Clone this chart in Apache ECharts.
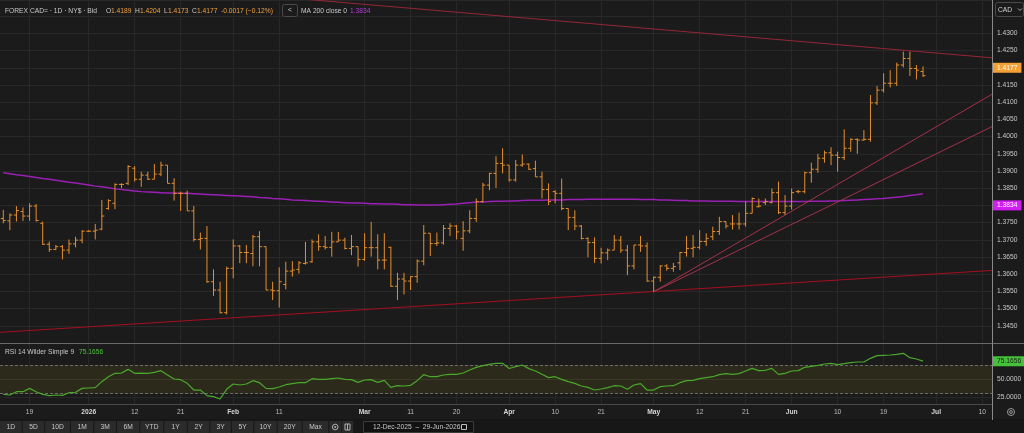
<!DOCTYPE html>
<html lang="en">
<head>
<meta charset="UTF-8">
<title>CAD= 1D</title>
<script src="https://cdn.jsdelivr.net/npm/echarts@6/dist/echarts.min.js"></script>
<style>
    *{ margin:0; padding:0; }
    body{ background:#1b1b1b; }
    #chart{ width:1024px; height:433px; }
</style>
</head>
<body>
<div id="chart"></div>
<script>
// ---- data ----
var firstDay = '2025-12-15';
var lastAxisDay = '2026-07-13';

var tickDates  = ['2025-12-19','2026-01-01','2026-01-12','2026-01-21','2026-02-02','2026-02-11','2026-03-02','2026-03-11','2026-03-20','2026-04-01','2026-04-10','2026-04-21','2026-05-01','2026-05-12','2026-05-21','2026-06-01','2026-06-10','2026-06-19','2026-07-01','2026-07-10'];
var tickLabels = ['19','2026','12','21','Feb','11','Mar','11','20','Apr','10','21','May','12','21','Jun','10','19','Jul','10'];

var opens = [1.3762,1.3755,1.3772,1.3782,1.3769,1.3798,1.3748,1.3687,1.3672,1.3680,
    1.3670,1.3688,1.3699,1.3725,1.3725,1.3731,1.3791,1.3806,1.3861,1.3864,
    1.3908,1.3876,1.3888,1.3876,1.3891,1.3917,1.3864,1.3835,1.3835,1.3784,
    1.3701,1.3704,1.3578,1.3554,1.3488,1.3617,1.3682,1.3663,1.3660,1.3709,
    1.3680,1.3554,1.3552,1.3570,1.3609,1.3614,1.3631,1.3636,1.3694,1.3680,
    1.3678,1.3694,1.3699,1.3675,1.3680,1.3643,1.3677,1.3677,1.3641,1.3678,
    1.3565,1.3586,1.3580,1.3593,1.3638,1.3719,1.3689,1.3691,1.3733,1.3740,
    1.3704,1.3726,1.3762,1.3811,1.3859,1.3893,1.3922,1.3917,1.3874,1.3917,
    1.3920,1.3907,1.3883,1.3846,1.3840,1.3835,1.3791,1.3765,1.3740,1.3704,
    1.3692,1.3646,1.3662,1.3670,1.3699,1.3670,1.3624,1.3685,1.3682,1.3580,
    1.3591,1.3624,1.3617,1.3633,1.3663,1.3675,1.3678,1.3695,1.3709,1.3724,
    1.3753,1.3746,1.3746,1.3746,1.3777,1.3796,1.3808,1.3808,1.3837,1.3779,
    1.3798,1.3840,1.3840,1.3895,1.3905,1.3937,1.3953,1.3946,1.3939,1.3966,
    1.3992,1.3990,1.3992,1.4098,1.4135,1.4155,1.4155,1.4208,1.4227,1.4198,
    1.4189];
var highs = [1.3787,1.3777,1.3798,1.3794,1.3806,1.3804,1.3753,1.3695,1.3685,1.3685,
    1.3701,1.3709,1.3728,1.3728,1.3746,1.3816,1.3818,1.3864,1.3864,1.3917,
    1.3914,1.3898,1.3898,1.3920,1.3927,1.3917,1.3879,1.3840,1.3843,1.3798,
    1.3721,1.3740,1.3614,1.3578,1.3622,1.3701,1.3685,1.3685,1.3714,1.3725,
    1.3680,1.3578,1.3620,1.3636,1.3638,1.3638,1.3694,1.3701,1.3716,1.3711,
    1.3723,1.3723,1.3706,1.3714,1.3680,1.3719,1.3752,1.3716,1.3719,1.3680,
    1.3604,1.3604,1.3594,1.3643,1.3743,1.3719,1.3721,1.3743,1.3748,1.3743,
    1.3754,1.3786,1.3820,1.3866,1.3895,1.3943,1.3966,1.3917,1.3932,1.3948,
    1.3922,1.3930,1.3898,1.3864,1.3844,1.3878,1.3791,1.3786,1.3743,1.3707,
    1.3707,1.3677,1.3675,1.3714,1.3711,1.3685,1.3685,1.3711,1.3692,1.3593,
    1.3626,1.3629,1.3633,1.3665,1.3711,1.3714,1.3728,1.3719,1.3738,1.3767,
    1.3753,1.3772,1.3779,1.3811,1.3823,1.3820,1.3820,1.3849,1.3869,1.3830,
    1.3849,1.3845,1.3898,1.3924,1.3950,1.3959,1.3969,1.3956,1.4021,1.3995,
    1.3995,1.4019,1.4121,1.4147,1.4184,1.4193,1.4215,1.4247,1.4247,1.4208,
    1.4204];
var lows = [1.3748,1.3728,1.3753,1.3755,1.3755,1.3753,1.3685,1.3665,1.3670,1.3643,
    1.3659,1.3678,1.3690,1.3723,1.3701,1.3728,1.3787,1.3789,1.3850,1.3859,
    1.3869,1.3854,1.3874,1.3876,1.3885,1.3864,1.3814,1.3784,1.3784,1.3695,
    1.3672,1.3575,1.3537,1.3486,1.3483,1.3588,1.3632,1.3632,1.3623,1.3623,
    1.3554,1.3525,1.3503,1.3556,1.3593,1.3602,1.3628,1.3633,1.3668,1.3672,
    1.3651,1.3694,1.3672,1.3655,1.3622,1.3639,1.3651,1.3614,1.3614,1.3563,
    1.3525,1.3541,1.3554,1.3575,1.3626,1.3653,1.3682,1.3686,1.3711,1.3701,
    1.3668,1.3719,1.3752,1.3808,1.3844,1.3851,1.3893,1.3869,1.3869,1.3912,
    1.3903,1.3883,1.3820,1.3801,1.3806,1.3786,1.3728,1.3728,1.3701,1.3649,
    1.3633,1.3631,1.3641,1.3670,1.3662,1.3597,1.3614,1.3665,1.3578,1.3549,
    1.3578,1.3610,1.3607,1.3612,1.3651,1.3649,1.3672,1.3682,1.3699,1.3714,
    1.3733,1.3730,1.3730,1.3738,1.3777,1.3794,1.3801,1.3806,1.3775,1.3772,
    1.3788,1.3835,1.3835,1.3866,1.3895,1.3924,1.3917,1.3898,1.3932,1.3956,
    1.3950,1.3988,1.3985,1.4092,1.4128,1.4143,1.4147,1.4201,1.4176,1.4166,
    1.4173];
var closes = [1.3756,1.3772,1.3785,1.3769,1.3798,1.3756,1.3687,1.3672,1.3680,1.3670,
    1.3688,1.3699,1.3725,1.3725,1.3728,1.3769,1.3814,1.3861,1.3861,1.3913,
    1.3876,1.3888,1.3876,1.3891,1.3917,1.3864,1.3835,1.3835,1.3784,1.3701,
    1.3704,1.3578,1.3554,1.3488,1.3617,1.3682,1.3663,1.3663,1.3709,1.3680,
    1.3554,1.3552,1.3578,1.3609,1.3612,1.3633,1.3633,1.3694,1.3680,1.3678,
    1.3694,1.3699,1.3675,1.3680,1.3643,1.3677,1.3677,1.3641,1.3641,1.3565,
    1.3586,1.3580,1.3593,1.3638,1.3719,1.3689,1.3691,1.3733,1.3740,1.3723,
    1.3726,1.3762,1.3811,1.3859,1.3893,1.3922,1.3917,1.3874,1.3917,1.3920,
    1.3905,1.3883,1.3846,1.3811,1.3835,1.3791,1.3765,1.3740,1.3704,1.3692,
    1.3646,1.3662,1.3670,1.3699,1.3670,1.3624,1.3685,1.3682,1.3580,1.3591,
    1.3624,1.3617,1.3622,1.3663,1.3675,1.3678,1.3695,1.3704,1.3724,1.3753,
    1.3740,1.3746,1.3746,1.3777,1.3820,1.3798,1.3811,1.3837,1.3779,1.3798,
    1.3837,1.3840,1.3895,1.3905,1.3937,1.3953,1.3946,1.3939,1.3966,1.3992,
    1.3990,1.3992,1.4098,1.4135,1.4155,1.4155,1.4208,1.4227,1.4198,1.4193,
    1.4177];

var ma200 = [1.3895,1.3892,1.3889,1.3887,1.3884,1.3881,1.3878,1.3876,1.3873,1.3870,
    1.3867,1.3865,1.3862,1.3859,1.3856,1.3854,1.3851,1.3848,1.3846,1.3844,
    1.3842,1.3840,1.3839,1.3838,1.3837,1.3836,1.3836,1.3835,1.3835,1.3834,
    1.3833,1.3832,1.3831,1.3830,1.3829,1.3828,1.3827,1.3826,1.3825,1.3823,
    1.3822,1.3820,1.3819,1.3818,1.3816,1.3815,1.3814,1.3813,1.3812,1.3811,
    1.3810,1.3809,1.3808,1.3807,1.3807,1.3806,1.3805,1.3805,1.3804,1.3804,
    1.3803,1.3802,1.3802,1.3801,1.3801,1.3801,1.3801,1.3802,1.3803,1.3804,
    1.3806,1.3808,1.3810,1.3810,1.3811,1.3812,1.3812,1.3813,1.3813,1.3814,
    1.3815,1.3815,1.3815,1.3816,1.3816,1.3816,1.3817,1.3817,1.3817,1.3818,
    1.3818,1.3818,1.3818,1.3818,1.3818,1.3818,1.3818,1.3817,1.3817,1.3817,
    1.3816,1.3816,1.3815,1.3814,1.3814,1.3813,1.3813,1.3813,1.3812,1.3812,
    1.3812,1.3812,1.3811,1.3811,1.3811,1.3811,1.3811,1.3811,1.3811,1.3811,
    1.3811,1.3811,1.3811,1.3812,1.3812,1.3812,1.3813,1.3813,1.3814,1.3815,
    1.3816,1.3817,1.3818,1.3819,1.3820,1.3822,1.3824,1.3826,1.3829,1.3831,
    1.3834];

var rsi = [29.1,28.2,32.8,32.8,37.4,32.8,29.1,27.3,28.2,27.7,
    31.4,31.9,37.4,37.9,38.4,46.7,53.6,58.3,58.7,63.8,
    58.3,58.7,58.3,59.7,62.0,56.0,50.4,49.5,44.4,35.1,
    35.1,27.3,25.9,22.6,36.1,43.5,42.1,43.5,48.1,45.3,
    37.4,37.0,39.3,42.5,43.9,45.3,45.3,50.9,49.9,49.9,
    50.9,51.8,49.9,49.5,45.8,49.0,49.5,45.8,48.5,38.8,
    41.1,40.7,41.6,48.1,56.4,53.6,53.6,56.0,56.9,56.9,
    58.7,62.9,66.6,68.9,70.8,72.2,72.2,65.0,67.5,69.9,
    64.8,61.5,56.9,52.3,53.6,49.9,46.7,44.4,40.7,38.8,
    35.1,36.5,38.4,41.1,40.7,36.1,42.1,43.9,35.1,35.1,
    39.8,40.7,41.1,45.3,48.1,48.5,50.9,52.3,53.6,56.4,
    57.8,56.9,57.8,61.5,65.2,62.0,62.5,65.2,56.9,58.3,
    61.5,62.0,66.6,68.0,69.4,71.2,72.2,70.3,71.7,73.1,
    74.0,74.0,79.1,82.8,83.3,83.7,84.7,86.1,80.0,78.2,
    75.1656];

// trend lines: [day index, price] pairs
var trendUpper   = [[38, 1.4412], [150.5, 1.4229]];
var trendLower   = [[-0.5, 1.3431], [150.5, 1.3611]];
var trendRiseA   = [[99, 1.3549], [150.5, 1.4123]];
var trendRiseB   = [[99, 1.3549], [150.5, 1.4029]];

var lastClose = 1.4177, lastMa = 1.3834, lastRsi = 75.1656;

var toolbarButtons = [['1D',0,21.7],['5D',22.7,44.3],['10D',45.3,70],['1M',71,93.3],['3M',94.3,116],['6M',117,139.3],
    ['YTD',140.3,163.3],['1Y',164.3,186.7],['2Y',187.7,209.3],['3Y',210.3,231],['5Y',232,253.3],['10Y',254.3,276.7],
    ['20Y',277.7,301.7],['Max',302.7,328.3]];

// ---- build ----
function businessDays(a, b) {
    var out = [];
    var d = new Date(a + 'T00:00:00Z'), e = new Date(b + 'T00:00:00Z');
    while (d <= e) {
        var wd = d.getUTCDay();
        if (wd !== 0 && wd !== 6) out.push(d.toISOString().slice(0, 10));
        d.setUTCDate(d.getUTCDate() + 1);
    }
    return out;
}
var days = businessDays(firstDay, lastAxisDay);

var ohlc = [];
for (var i = 0; i < closes.length; i++) {
    ohlc.push([i, opens[i], closes[i], lows[i], highs[i]]);
}

function isTick(idx, val) { return tickDates.indexOf(val) >= 0; }
function xLabel(val) {
    var t = tickLabels[tickDates.indexOf(val)];
    if (t === undefined) return '';
    return t.length > 2 ? '{b|' + t + '}' : t;
}

var FONT = '"Liberation Sans", Arial, sans-serif';
var FS = 6.7;
var BAR = '#e58f2d';
var GRIDC = '#282828';

function renderBar(params, api) {
    var i = api.value(0);
    var o = api.coord([i, api.value(1)]);
    var c = api.coord([i, api.value(2)]);
    var l = api.coord([i, api.value(3)]);
    var h = api.coord([i, api.value(4)]);
    var x = o[0], w = 2.5;
    return {
        type: 'group',
        children: [
            {type: 'line', shape: {x1: x, y1: h[1], x2: x, y2: l[1]}, style: {stroke: BAR, lineWidth: 1}},
            {type: 'line', shape: {x1: x - w, y1: o[1], x2: x, y2: o[1]}, style: {stroke: BAR, lineWidth: 1}},
            {type: 'line', shape: {x1: x, y1: c[1], x2: x + w, y2: c[1]}, style: {stroke: BAR, lineWidth: 1}}
        ]
    };
}

function trend(data, color) {
    return {
        type: 'line', xAxisIndex: 2, yAxisIndex: 0, data: data, symbol: 'none', silent: true,
        clip: true, z: 4, lineStyle: {color: color, width: 1}
    };
}

// empty host series whose only job is the value box on the right axis
function boxSeries(xi, yi, value, text, bg, fg) {
    return {
        type: 'line', xAxisIndex: xi, yAxisIndex: yi, data: [], symbol: 'none', silent: true,
        clip: false, z: 12,
        markLine: {
            silent: true, symbol: 'none', animation: false,
            lineStyle: {color: 'rgba(0,0,0,0)', width: 0},
            label: {
                show: true, position: 'end', distance: 1, formatter: text, opacity: 1,
                backgroundColor: bg, color: fg, fontSize: FS, fontFamily: FONT,
                padding: [2, 4, 1, 4]
            },
            data: [{yAxis: value}]
        }
    };
}

function txt(x, y, s, color, extra) {
    var st = {text: s, x: x, y: y, fill: color, font: FS + 'px ' + FONT,
        align: 'left', verticalAlign: 'middle', textAlign: 'left', textVerticalAlign: 'middle'};
    if (extra) for (var k in extra) st[k] = extra[k];
    return {type: 'text', silent: true, z: 20, style: st};
}

var graphics = [
    // panel separators and right axis line
    {type: 'line', z: 15, silent: true, shape: {x1: 0, y1: 343.5, x2: 1024, y2: 343.5}, style: {stroke: '#6a6a6a', lineWidth: 1}},
    {type: 'line', z: 15, silent: true, shape: {x1: 0, y1: 404.5, x2: 992, y2: 404.5}, style: {stroke: '#4a4a4a', lineWidth: 1}},
    {type: 'line', z: 15, silent: true, shape: {x1: 992.5, y1: 0, x2: 992.5, y2: 420}, style: {stroke: '#8a8a8a', lineWidth: 1}},
    // header
    txt(5, 11, 'FOREX CAD= · 1D · NY$ · Bid', '#c8c8c8'),
    txt(106, 11, 'O', '#c8c8c8'), txt(111, 11, '1.4189', '#f0a040'),
    txt(135, 11, 'H', '#c8c8c8'), txt(140, 11, '1.4204', '#f0a040'),
    txt(164, 11, 'L', '#c8c8c8'), txt(168, 11, '1.4173', '#f0a040'),
    txt(192, 11, 'C', '#c8c8c8'), txt(197, 11, '1.4177', '#f0a040'),
    txt(221, 11, '-0.0017 (\u22120.12%)', '#f0a040'),
    {type: 'rect', z: 19, silent: true, shape: {x: 282.5, y: 4.5, width: 15, height: 12, r: 2}, style: {fill: '#1b1b1b', stroke: '#4a4a4a', lineWidth: 1}},
    txt(290, 10.5, '<', '#d0d0d0', {align: 'center', textAlign: 'center'}),
    txt(301, 11, 'MA 200 close 0', '#c8c8c8'),
    txt(350, 11, '1.3834', '#b43cd6'),
    // CAD selector
    {type: 'rect', z: 19, silent: true, shape: {x: 995.5, y: 2.5, width: 28, height: 14, r: 2}, style: {fill: '#1b1b1b', stroke: '#4a4a4a', lineWidth: 1}},
    txt(998, 10, 'CAD', '#d0d0d0'),
    {type: 'polyline', z: 20, silent: true, shape: {points: [[1018, 8.5], [1020, 10.5], [1022, 8.5]]}, style: {stroke: '#aaaaaa', lineWidth: 1, fill: null}},
    // RSI title
    txt(5, 352.5, 'RSI 14 Wilder Simple 9', '#c8c8c8'),
    txt(79, 352.5, '75.1656', '#4cc23a'),
    // bottom-right settings icon
    {type: 'circle', z: 20, silent: true, shape: {cx: 1011, cy: 412, r: 3.5}, style: {fill: null, stroke: '#9a9a9a', lineWidth: 1}},
    {type: 'circle', z: 20, silent: true, shape: {cx: 1011, cy: 412, r: 1.4}, style: {fill: null, stroke: '#9a9a9a', lineWidth: 1}},
    // toolbar strip
    {type: 'rect', z: 10, silent: true, shape: {x: 0, y: 419, width: 1024, height: 14}, style: {fill: '#171717'}}
];
toolbarButtons.forEach(function (b) {
    graphics.push({type: 'rect', z: 11, silent: true, shape: {x: b[1], y: 421, width: b[2] - b[1], height: 12}, style: {fill: '#2b2b2b'}});
    graphics.push(txt((b[1] + b[2]) / 2, 427.3, b[0], '#c8c8c8', {align: 'center', textAlign: 'center'}));
});
graphics.push(
    {type: 'rect', z: 11, silent: true, shape: {x: 329.3, y: 421, width: 11.7, height: 12}, style: {fill: '#2b2b2b'}},
    {type: 'circle', z: 12, silent: true, shape: {cx: 335.2, cy: 427, r: 2.8}, style: {fill: null, stroke: '#b0b0b0', lineWidth: 1}},
    {type: 'circle', z: 12, silent: true, shape: {cx: 335.2, cy: 427, r: 1}, style: {fill: '#b0b0b0'}},
    {type: 'rect', z: 11, silent: true, shape: {x: 341.7, y: 421, width: 11.6, height: 12}, style: {fill: '#2b2b2b'}},
    {type: 'rect', z: 12, silent: true, shape: {x: 345, y: 424, width: 5, height: 6}, style: {fill: null, stroke: '#b0b0b0', lineWidth: 1}},
    {type: 'line', z: 12, silent: true, shape: {x1: 347.5, y1: 424, x2: 347.5, y2: 430}, style: {stroke: '#b0b0b0', lineWidth: 1}},
    {type: 'rect', z: 11, silent: true, shape: {x: 363.5, y: 421.5, width: 110, height: 11}, style: {fill: '#121212', stroke: '#3a3a3a', lineWidth: 1}},
    txt(373, 427.3, '12-Dec-2025  \u2013  29-Jun-2026', '#c8c8c8'),
    {type: 'rect', z: 12, silent: true, shape: {x: 461.5, y: 424.5, width: 5, height: 5}, style: {fill: null, stroke: '#c0c0c0', lineWidth: 1}}
);

var myChart = echarts.init(document.getElementById('chart'), null, {renderer: 'canvas'});
var option = {
    backgroundColor: '#1b1b1b',
    animation: false,
    textStyle: {fontFamily: FONT},
    grid: [
        {left: 0, top: 0, width: 992, height: 343, containLabel: false, outerBoundsMode: 'none'},
        {left: 0, top: 344, width: 992, height: 60, containLabel: false, outerBoundsMode: 'none'}
    ],
    xAxis: [
        {
            type: 'category', gridIndex: 0, data: days, boundaryGap: true,
            axisLine: {show: false}, axisTick: {show: false}, axisLabel: {show: false},
            splitLine: {show: true, interval: isTick, alignWithLabel: true, lineStyle: {color: GRIDC, width: 1}}
        },
        {
            type: 'category', gridIndex: 1, data: days, boundaryGap: true,
            axisLine: {show: false}, axisTick: {show: false},
            axisLabel: {
                interval: isTick, formatter: xLabel, color: '#bdbdbd', fontSize: FS, margin: 5,
                rich: {b: {fontWeight: 'bold', color: '#d6d6d6', fontSize: FS}}
            },
            splitLine: {show: true, interval: isTick, alignWithLabel: true, lineStyle: {color: GRIDC, width: 1}}
        },
        {type: 'value', gridIndex: 0, min: -0.5, max: days.length - 0.5, show: false}
    ],
    yAxis: [
        {
            type: 'value', gridIndex: 0, position: 'right', min: 1.34, max: 1.4397, interval: 0.005,
            axisLine: {show: false}, axisTick: {show: false},
            splitLine: {show: true, lineStyle: {color: GRIDC, width: 1}},
            axisLabel: {
                color: '#c8c8c8', fontSize: FS, margin: 5,
                formatter: function (v) { return (v > 1.4325 || v < 1.3425) ? '' : v.toFixed(4); }
            }
        },
        {
            type: 'value', gridIndex: 1, position: 'right', min: 15.7, max: 99,
            axisLine: {show: false}, axisTick: {show: false}, splitLine: {show: false},
            axisLabel: {
                customValues: [25, 50], color: '#c8c8c8', fontSize: FS, margin: 5,
                formatter: function (v) { return v.toFixed(4); }
            }
        }
    ],
    series: [
        trend(trendLower, '#a50f1f'),
        trend(trendUpper, '#952638'),
        trend(trendRiseA, '#a3324a'),
        trend(trendRiseB, '#a3324a'),
        {
            name: 'MA 200', type: 'line', xAxisIndex: 0, yAxisIndex: 0, data: ma200,
            symbol: 'none', silent: true, z: 3,
            lineStyle: {color: '#9a1fb4', width: 1.5}
        },
        {
            name: 'CAD=', type: 'custom', xAxisIndex: 0, yAxisIndex: 0, data: ohlc,
            renderItem: renderBar, silent: true, z: 5,
            encode: {x: 0, y: [1, 2, 3, 4]}
        },
        {
            name: 'RSI', type: 'line', xAxisIndex: 1, yAxisIndex: 1, data: rsi,
            symbol: 'none', silent: true, z: 5,
            lineStyle: {color: '#4aa82c', width: 1.2},
            markArea: {
                silent: true,
                itemStyle: {color: '#2c2a1b'},
                data: [[{yAxis: 30}, {yAxis: 70}]]
            },
            markLine: {
                silent: true, symbol: 'none', animation: false,
                label: {show: false},
                data: [
                    {yAxis: 70, lineStyle: {color: '#6a6a6a', type: [3, 2], width: 1}},
                    {yAxis: 30, lineStyle: {color: '#6a6a6a', type: [3, 2], width: 1}},
                    {yAxis: 50, lineStyle: {color: '#3a3826', type: 'solid', width: 1}},
                    {yAxis: 25, lineStyle: {color: GRIDC, type: 'solid', width: 1}}
                ]
            }
        },
        boxSeries(0, 0, lastClose, '1.4177', '#f5a034', '#ffffff'),
        boxSeries(0, 0, lastMa, '1.3834', '#d21ef2', '#ffffff'),
        boxSeries(1, 1, lastRsi, '75.1656', '#45c23a', '#1b1b1b')
    ],
    graphic: graphics
};
myChart.setOption(option);
</script>
</body>
</html>
